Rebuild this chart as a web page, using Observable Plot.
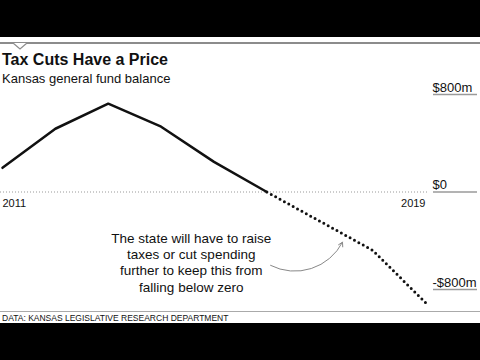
<!DOCTYPE html>
<html><head><meta charset="utf-8">
<script src="https://cdn.jsdelivr.net/npm/d3@7"></script>
<script src="https://cdn.jsdelivr.net/npm/@observablehq/plot@0.6"></script>
<style>
html,body{margin:0;padding:0;background:#fff;overflow:hidden;}
#topband{position:fixed;left:0;top:0;width:100vw;height:37px;background:#000;}
#bottomband{position:fixed;left:0;top:323px;width:100vw;height:100px;background:#000;}
#frame{position:relative;width:480px;height:360px;font-family:"Liberation Sans",Arial,sans-serif;color:#111;}
#panel{position:absolute;left:0;top:37px;width:100vw;height:286px;background:#fff;}
#rule{position:absolute;left:0;top:5px;width:100vw;height:2px;background:#8c8c8c;}
#notch{position:absolute;left:12px;top:5px;}
#title{position:absolute;left:2px;top:14px;font-weight:bold;font-size:16px;line-height:18px;}
#subtitle{position:absolute;left:2px;top:34px;font-size:13px;line-height:15px;}
#chart{position:absolute;left:0;top:37px;width:480px;height:236px;}
#caprule{position:absolute;left:0;top:274px;width:100vw;height:1px;background:#aaa;}
#caption{position:absolute;left:2px;top:276px;font-size:8.5px;line-height:10px;}
</style></head>
<body>
<div id="topband"></div>
<div id="frame"><div id="panel">
  <div id="rule"></div>
  <svg id="notch" width="17" height="9"><path d="M1,1 L8,7 L15,1" fill="#fff" stroke="#8c8c8c" stroke-width="1.2"/></svg>
  <div id="title">Tax Cuts Have a Price</div>
  <div id="subtitle">Kansas general fund balance</div>
  <div id="chart"></div>
  <div id="caprule"></div>
  <div id="caption">DATA: KANSAS LEGISLATIVE RESEARCH DEPARTMENT</div>
</div></div>
<div id="bottomband"></div>
<script>
const years = [2011, 2012, 2013, 2014, 2015, 2016, 2017, 2018, 2019];
const balance = [198, 519, 725, 536, 247, 0, -239, -478, -907];
const lastActualYear = 2016;
const yTicks = [-800, 0, 800];
const yTickLabels = ["-$800m", "$0", "$800m"];
const yearLabels = [2011, 2019];
const noteText = "The state will have to raise\ntaxes or cut spending\nfurther to keep this from\nfalling below zero";
const noteAt = [2014.57, -577];
const arrowFrom = [2016.07, -602];
const arrowTo = [2017.43, -412];

const data = years.map((year, i) => ({year, value: balance[i]}));
const actual = data.filter(d => d.year <= lastActualYear);
const projected = data.filter(d => d.year >= lastActualYear);

const chart = Plot.plot({
  width: 480, height: 236,
  marginLeft: 2, marginRight: 55, marginTop: 20, marginBottom: 21,
  x: {domain: [2011, 2019], axis: null},
  y: {domain: [-800, 800], axis: null},
  style: {fontFamily: '"Liberation Sans", Arial, sans-serif', background: "transparent", overflow: "visible", color: "#111", display: "block"},
  marks: [
    Plot.ruleY([0], {stroke: "#999", strokeDasharray: "1,2", insetLeft: -2, insetRight: -3}),
    Plot.axisY(yTicks, {anchor: "right", tickSize: 44, dx: 7, tickFormat: () => "", stroke: "#9a9a9a", strokeWidth: 1.5, label: null}),
    Plot.axisY(yTicks, {anchor: "right", tickSize: 0, tickPadding: 7, dy: -7, tickFormat: d => yTickLabels[yTicks.indexOf(d)], fontSize: 13, fill: "#111", label: null}),
    Plot.line(actual, {x: "year", y: "value", stroke: "#111", strokeWidth: 2.5}),
    Plot.line(projected, {x: "year", y: "value", stroke: "#111", strokeWidth: 3, strokeDasharray: "0,5", strokeLinecap: "round"}),
    Plot.text([yearLabels[0]], {x: d => d, y: () => 0, text: d => String(d), dy: 11, textAnchor: "start", fontSize: 11, fill: "#111"}),
    Plot.text([yearLabels[1]], {x: d => d, y: () => 0, text: d => String(d), dy: 11, textAnchor: "end", fontSize: 11, fill: "#111"}),
    Plot.text([noteText], {x: () => noteAt[0], y: () => noteAt[1], fontSize: 13.5, lineHeight: 1.19, textAnchor: "middle", fill: "#111"}),
    Plot.arrow([0], {x1: () => arrowFrom[0], y1: () => arrowFrom[1], x2: () => arrowTo[0], y2: () => arrowTo[1], bend: -45, stroke: "#888", strokeWidth: 1, headLength: 7})
  ]
});
document.getElementById("chart").appendChild(chart);
</script>
</body></html>
